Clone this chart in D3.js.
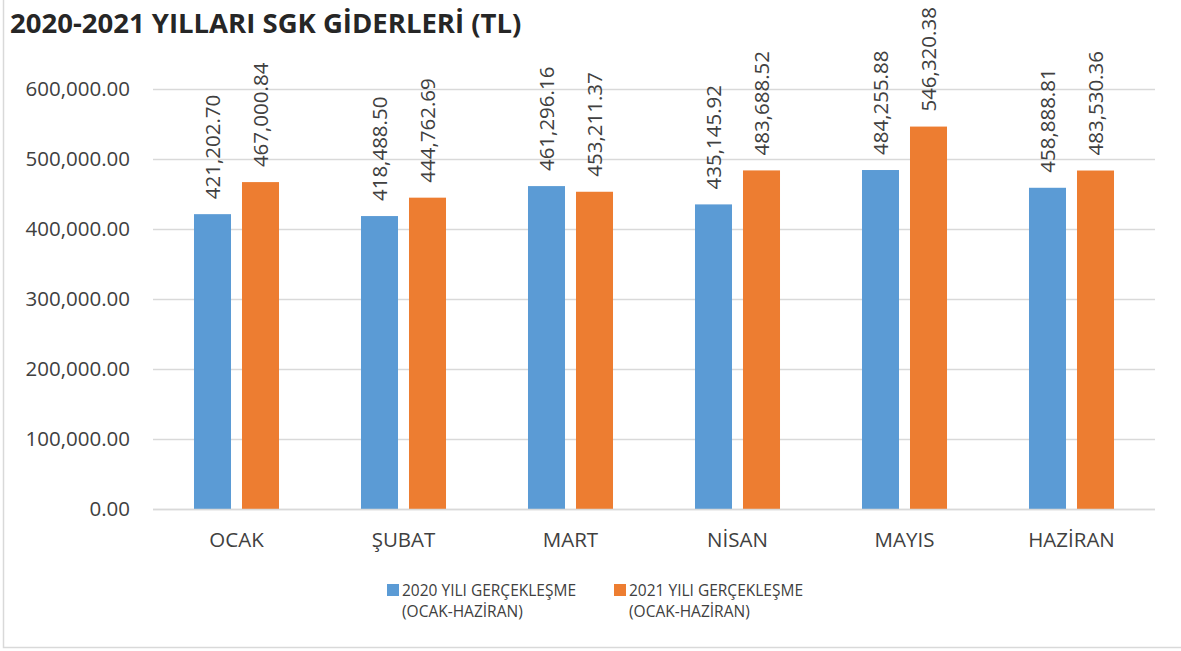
<!DOCTYPE html>
<html><head><meta charset="utf-8">
<script src="https://cdn.jsdelivr.net/npm/d3@7"></script>
<style>
html,body{margin:0;padding:0;background:#fff;}
svg{display:block;font-family:"Open Sans",sans-serif;}
</style></head>
<body>
<svg id="c" width="1181" height="651"></svg>
<script>
const title = "2020-2021 YILLARI SGK GİDERLERİ (TL)";
const categories = ["OCAK","ŞUBAT","MART","NİSAN","MAYIS","HAZİRAN"];
const seriesNames = ["2020 YILI GERÇEKLEŞME (OCAK-HAZİRAN)","2021 YILI GERÇEKLEŞME (OCAK-HAZİRAN)"];
const legendLines = [["2020 YILI GERÇEKLEŞME","(OCAK-HAZİRAN)"],["2021 YILI GERÇEKLEŞME","(OCAK-HAZİRAN)"]];
const values2020 = [421202.70, 418488.50, 461296.16, 435145.92, 484255.88, 458888.81];
const values2021 = [467000.84, 444762.69, 453211.37, 483688.52, 546320.38, 483530.36];
const yTicks = [0, 100000, 200000, 300000, 400000, 500000, 600000];
const colors = ["#5B9BD5", "#ED7D31"];

const svg = d3.select("#c");
const plot = {left:153, right:1155, top:89, bottom:509};

// chart border
svg.append("rect").attr("x",3.5).attr("y",-2).attr("width",1190).attr("height",649.5)
  .attr("fill","none").attr("stroke","#d9d9d9").attr("stroke-width",1.5);

svg.append("text").attr("x",10).attr("y",33)
  .attr("font-size",27.5).attr("font-weight","bold").attr("fill","#262626")
  .text(title);

const y = d3.scaleLinear().domain([0,600000]).range([plot.bottom, plot.top]);
const x0 = d3.scaleBand().domain(categories).range([plot.left, plot.right]).padding(0);
const x1 = d3.scaleBand().domain([0,1]).range([0, x0.bandwidth()]).paddingInner(0.229).paddingOuter(0.854);

const fmt = d3.format(",.2f");

// gridlines
svg.append("g").selectAll("line").data(yTicks).join("line")
  .attr("x1",plot.left).attr("x2",plot.right)
  .attr("y1",d=>Math.round(y(d))+0.5).attr("y2",d=>Math.round(y(d))+0.5)
  .attr("stroke","#d9d9d9").attr("stroke-width",1.5);

// y labels
svg.append("g").selectAll("text").data(yTicks).join("text")
  .attr("x",130).attr("y",d=>y(d)).attr("dy","0.35em")
  .attr("text-anchor","end").attr("font-size",20.5).attr("fill","#404040")
  .text(d=>fmt(d));

const data = categories.map((c,i)=>({c, v:[values2020[i], values2021[i]]}));

const groups = svg.append("g").selectAll("g").data(data).join("g")
  .attr("transform",d=>`translate(${x0(d.c)},0)`);

groups.selectAll("rect").data(d=>d.v.map((v,k)=>({v,k}))).join("rect")
  .attr("x",d=>x1(d.k)).attr("width",x1.bandwidth())
  .attr("y",d=>y(d.v)).attr("height",d=>plot.bottom - y(d.v))
  .attr("fill",d=>colors[d.k]);

groups.selectAll("text.lbl").data(d=>d.v.map((v,k)=>({v,k}))).join("text")
  .attr("class","lbl")
  .attr("transform",d=>`translate(${x1(d.k)+x1.bandwidth()/2},${y(d.v)-15}) rotate(-90)`)
  .attr("dy","0.35em").attr("font-size",20.5).attr("fill","#404040")
  .text(d=>fmt(d.v));

// baseline
svg.append("line").attr("x1",plot.left).attr("x2",plot.right)
  .attr("y1",plot.bottom+0.5).attr("y2",plot.bottom+0.5)
  .attr("stroke","#d9d9d9").attr("stroke-width",1.5);

// category labels
svg.append("g").selectAll("text").data(categories).join("text")
  .attr("x",d=>x0(d)+x0.bandwidth()/2).attr("y",547)
  .attr("text-anchor","middle").attr("font-size",20.5).attr("fill","#404040")
  .text(d=>d);

// legend
const legX = [387, 614];
const lg = svg.append("g").selectAll("g").data(seriesNames).join("g")
  .attr("transform",(d,i)=>`translate(${legX[i]},584)`);
lg.append("rect").attr("width",12).attr("height",12).attr("fill",(d,i)=>colors[i]);
lg.each(function(d,i){
  const t = d3.select(this).append("text").attr("font-size",15.5).attr("fill","#404040");
  legendLines[i].forEach((ln,j)=>{
    t.append("tspan").attr("x",15).attr("y",12 + j*21).text(ln);
  });
});
</script>
</body></html>
